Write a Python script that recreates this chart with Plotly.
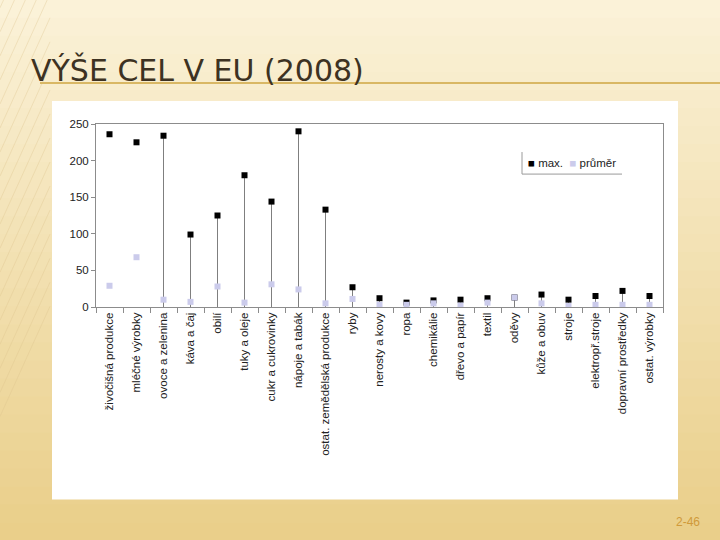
import plotly.graph_objects as go

categories = ["živočišná produkce", "mléčné výrobky", "ovoce a zelenina", "káva a čaj", "obilí",
              "tuky a oleje", "cukr a cukrovinky", "nápoje a tabák", "ostat. zemědělská produkce",
              "ryby", "nerosty a kovy", "ropa", "chemikálie", "dřevo a papír", "textil", "oděvy",
              "kůže a obuv", "stroje", "elektropř.stroje", "dopravní prostředky", "ostat. výrobky"]
max_vals = [236, 225, 234, 99, 125, 180, 144, 240, 133, 27, 12, 6, 9, 10, 12, 13, 17, 10, 15, 22, 15]
avg_vals = [29, 68, 10, 7, 28, 6, 31, 24, 5, 11, 3, 3, 5, 2, 6, 13, 5, 1.5, 3, 3, 3]
low_vals = [None, None, 0, 0, 0, 0, 0, 0, 0, 0, 0, 0, 0, 0, 0, 0, 0, 0, 0, 0, 0]
y_ticks = [0, 50, 100, 150, 200, 250]

W, H = 720, 540
L, R, T, B = 96, 663, 124, 306.7

def px(x):
    return (x - L) / (R - L)

def py(y):
    return (B - y) / (B - T)

minus = [m - lo if lo is not None else 0 for m, lo in zip(max_vals, low_vals)]

fig = go.Figure()
fig.add_trace(go.Scatter(
    x=categories, y=max_vals, mode="markers", name="max.",
    marker=dict(symbol="square", size=6, color="#000000"),
    error_y=dict(type="data", symmetric=False, array=[0] * len(max_vals), arrayminus=minus,
                 color="#7f7f7f", thickness=1, width=0),
))
fig.add_trace(go.Scatter(
    x=categories, y=avg_vals, mode="markers", name="průměr",
    marker=dict(symbol="square", size=6, color="#CBCBEB"),
))

shapes = []
# background gradient bands
top_c = (251, 242, 216)
bot_c = (234, 207, 138)
n = 30
for i in range(n):
    t = i / (n - 1)
    c = tuple(int(top_c[k] + (bot_c[k] - top_c[k]) * t) for k in range(3))
    y0 = i * H / n
    y1 = (i + 1) * H / n + 1
    shapes.append(dict(type="rect", xref="paper", yref="paper", x0=px(0), x1=px(W),
                       y0=py(y1), y1=py(y0), fillcolor="rgb(%d,%d,%d)" % c,
                       line=dict(width=0), layer="below"))
# faint diagonal stripes on left
for s in range(-60, 60, 6):
    shapes.append(dict(type="line", xref="paper", yref="paper", x0=px(0), y0=py(200 + s * 4),
                       x1=px(50), y1=py(200 + s * 4 - 110), line=dict(color="rgba(220,195,140,0.35)", width=1),
                       layer="below"))
# title underline
shapes.append(dict(type="line", xref="paper", yref="paper", x0=px(40), x1=px(W), y0=py(83), y1=py(83),
                   line=dict(color="#D9B865", width=2), layer="below"))
# white chart box
shapes.append(dict(type="rect", xref="paper", yref="paper", x0=px(52), x1=px(678), y0=py(499), y1=py(101),
                   fillcolor="#FFFFFF", line=dict(width=0), layer="below"))
# legend border (left and bottom)
shapes.append(dict(type="line", xref="paper", yref="paper", x0=px(522), x1=px(522), y0=py(174), y1=py(152),
                   line=dict(color="#9a9a9a", width=1)))
shapes.append(dict(type="line", xref="paper", yref="paper", x0=px(522), x1=px(622), y0=py(174), y1=py(174),
                   line=dict(color="#9a9a9a", width=1)))

legend_text = ("<span style='color:#000000'>■</span> " + fig.data[0].name +
               "  <span style='color:#CBCBEB'>■</span> " + fig.data[1].name)

annotations = [
    dict(text="VÝŠE CEL V EU (2008)", xref="paper", yref="paper", x=px(29), y=py(70),
         xanchor="left", yanchor="middle", showarrow=False,
         font=dict(family="DejaVu Sans", size=30, color="#3D3222")),
    dict(text="2-46", xref="paper", yref="paper", x=px(702), y=py(521),
         xanchor="right", yanchor="middle", showarrow=False,
         font=dict(family="Liberation Sans, Arial", size=12, color="#D09A3A")),
    dict(text=legend_text, xref="paper", yref="paper", x=px(526), y=py(163),
         xanchor="left", yanchor="middle", showarrow=False,
         font=dict(family="Liberation Sans, Arial", size=11.5, color="#222222")),
]

fig.update_layout(
    width=W, height=H, autosize=False,
    margin=dict(l=L, r=W - R, t=T, b=H - B, pad=0),
    paper_bgcolor="#F6E6B8", plot_bgcolor="rgba(0,0,0,0)",
    shapes=shapes, annotations=annotations,
    showlegend=False,
    font=dict(family="Liberation Sans, Arial", size=11.5, color="#222222"),
)
fig.update_xaxes(type="category", tickangle=-90, showgrid=False, showline=True, linecolor="#8c8c8c",
                 mirror=True, ticks="outside", tickson="boundaries", ticklen=5, tickcolor="#8c8c8c",
                 tickfont=dict(size=11.5, color="#222222"), range=[-0.5, len(categories) - 0.5])
fig.update_yaxes(range=[0, 250], tickvals=y_ticks, showgrid=False, showline=True, linecolor="#8c8c8c",
                 mirror=True, ticks="outside", ticklen=4, tickcolor="#8c8c8c", zeroline=False,
                 tickfont=dict(size=11.5, color="#222222"))

fig.write_html("out.html", config={"displayModeBar": False},
               post_script="document.body.style.margin='0';document.body.style.padding='0';")
